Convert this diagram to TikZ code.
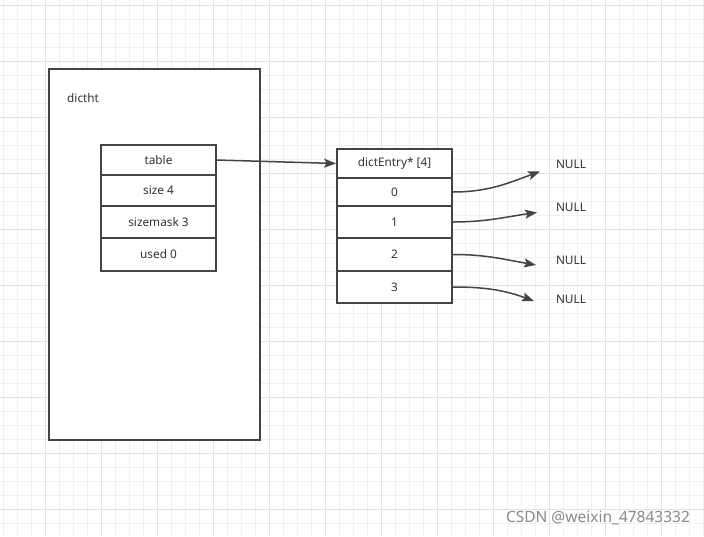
\documentclass[tikz,border=0pt]{standalone}
\usepackage{fontspec}
\setmainfont{Noto Sans}
\usetikzlibrary{arrows.meta}

\definecolor{gridminor}{HTML}{F0F0F0}
\definecolor{gridmajor}{HTML}{E2E2E2}
\definecolor{ink}{HTML}{444444}
\definecolor{txt}{HTML}{333333}
\definecolor{mark}{HTML}{8A8A8A}

\tikzset{
	cell/.style={shape=rectangle,draw=ink,line width=1.8pt,fill=white,minimum width=115pt,inner sep=0pt,text=txt,font=\fontsize{11.8}{14}\selectfont},
	frame/.style={shape=rectangle,draw=ink,line width=1.8pt,fill=white,minimum width=211pt,minimum height=371pt,inner sep=0pt},
	plaintext/.style={text=txt,inner sep=0pt,font=\fontsize{11.8}{14}\selectfont},
	link/.style={draw=ink,line width=1.5pt,-{Stealth[length=12pt,width=9pt,inset=2.5pt]}}
}

\begin{document}
\begin{tikzpicture}[x=1pt,y=-1pt]
	\useasboundingbox (0,0) rectangle (704,536);
	\fill[white] (0,0) rectangle (704,536);

	% background grid
	\foreach \x in {3.3,17.3,...,704} \draw[gridminor,line width=0.8pt] (\x,0) -- (\x,536);
	\foreach \y in {5,19,...,536} \draw[gridminor,line width=0.8pt] (0,\y) -- (704,\y);
	\foreach \x in {45.3,101.3,...,704} \draw[gridmajor,line width=0.9pt] (\x,0) -- (\x,536);
	\foreach \y in {5,61,...,536} \draw[gridmajor,line width=0.9pt] (0,\y) -- (704,\y);

	% dictht
	\node[frame] (dictht) at (154.5, 254.5) {};
	\node[plaintext,anchor=west] (name) at (67, 98) {dictht};

	\node[cell,minimum height=30pt] (table)    at (158.5, 160)   {table};
	\node[cell,minimum height=31pt] (size)     at (158.5, 190.5) {size 4};
	\node[cell,minimum height=32pt] (sizemask) at (158.5, 222)   {sizemask 3};
	\node[cell,minimum height=33pt] (used)     at (158.5, 254.5) {used 0};

	% dictEntry array
	\node[cell,minimum height=29pt] (head) at (394.5, 163.5) {dictEntry* [4]};
	\node[cell,minimum height=28pt] (e0)   at (394.5, 192)   {0};
	\node[cell,minimum height=32pt] (e1)   at (394.5, 222)   {1};
	\node[cell,minimum height=33pt] (e2)   at (394.5, 254.5) {2};
	\node[cell,minimum height=32pt] (e3)   at (394.5, 287)   {3};

	\node[plaintext] (null0) at (571, 164)   {NULL};
	\node[plaintext] (null1) at (571, 207.5) {NULL};
	\node[plaintext] (null2) at (571, 260)   {NULL};
	\node[plaintext] (null3) at (571, 299)   {NULL};

	\coordinate (t0) at (540, 171.5);
	\coordinate (t1) at (537, 212.5);
	\coordinate (t2) at (536, 265);
	\coordinate (t3) at (534, 301);

	\path (table.east) edge[link] (head.west);
	\path (e0.east) edge[link,out=0,in=200] (t0);
	\path (e1.east) edge[link,out=0,in=188] (t1);
	\path (e2.east) edge[link,out=0,in=170] (t2);
	\path (e3.east) edge[link,out=0,in=160] (t3);

	\node[text=mark,inner sep=0pt,font=\fontsize{15.5}{18}\selectfont] (wm) at (598, 518) {CSDN @weixin\_47843332};
\end{tikzpicture}
\end{document}
